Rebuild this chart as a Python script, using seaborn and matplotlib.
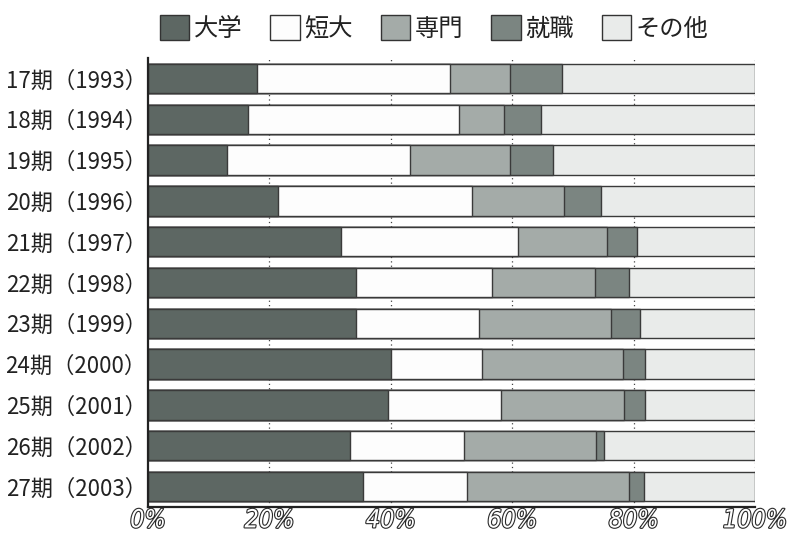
import numpy as np
import pandas as pd
import seaborn as sns
import matplotlib
matplotlib.use("Agg")
import matplotlib.pyplot as plt
from matplotlib.patches import Patch
import matplotlib.patheffects as pe

sns.set_theme(style="white")
plt.rcParams["font.family"] = ["Noto Sans CJK JP", "DejaVu Sans"]

# 進路別の割合（%）
periods = ["17期（1993）", "18期（1994）", "19期（1995）", "20期（1996）",
           "21期（1997）", "22期（1998）", "23期（1999）", "24期（2000）",
           "25期（2001）", "26期（2002）", "27期（2003）"]
univ    = [18.0, 16.5, 13.0, 21.4, 31.8, 34.2, 34.2, 40.1, 39.6, 33.2, 35.5]
junior  = [31.8, 34.7, 30.1, 31.9, 29.1, 22.4, 20.4, 15.0, 18.5, 18.8, 17.1]
voc     = [9.9, 7.5, 16.6, 15.2, 14.7, 17.0, 21.6, 23.1, 20.3, 21.8, 26.6]
job     = [8.5, 6.0, 7.0, 6.1, 4.9, 5.6, 4.8, 3.6, 3.4, 1.4, 2.5]
other   = [31.8, 35.3, 33.3, 25.4, 19.5, 20.8, 19.0, 18.2, 18.2, 24.8, 18.3]

series = ["大学", "短大", "専門", "就職", "その他"]
colors = ["#5d6763", "#fdfdfd", "#a4aba8", "#7b8581", "#e9ebea"]
xticks = [0, 20, 40, 60, 80, 100]
xticklabels = ["0%", "20%", "40%", "60%", "80%", "100%"]

df = pd.DataFrame({"period": periods, "大学": univ, "短大": junior,
                   "専門": voc, "就職": job, "その他": other})
cum = df[series].cumsum(axis=1)

fig = plt.figure(figsize=(7.94, 5.38), dpi=100)
ax = fig.add_axes([0.1864, 0.0576, 0.7645, 0.8346])

# dotted guides between the bars
for x in xticks[1:]:
    ax.axvline(x, color="#444444", lw=0.9, ls=(0, (1, 2.5)), zorder=0)

# stacked bars: draw the cumulative totals from the outermost segment inward
for name, col in reversed(list(zip(series, colors))):
    sns.barplot(x=cum[name], y=df["period"], orient="h", color=col,
                width=0.72, edgecolor="#3a3a3a", linewidth=1.0,
                saturation=1, ax=ax, zorder=2)

ax.set_xlim(0, 100)
ax.set_ylim(len(periods) - 0.5, -0.5)
ax.set_xlabel("")
ax.set_ylabel("")
ax.set_xticks(xticks)
ax.set_xticklabels(xticklabels)
for t in ax.get_xticklabels():
    t.set_fontfamily("DejaVu Sans")
    t.set_fontstretch("condensed")
    t.set_fontstyle("italic")
    t.set_fontsize(18)
    t.set_color("white")
    t.set_path_effects([pe.withStroke(linewidth=1.6, foreground="#2a2a2a")])
ax.tick_params(axis="x", length=0, pad=1)
ax.tick_params(axis="y", length=0, pad=1, labelsize=16, labelcolor="#222222")

for s in ["top", "right"]:
    ax.spines[s].set_visible(False)
for s in ["left", "bottom"]:
    ax.spines[s].set_color("#222222")
    ax.spines[s].set_linewidth(1.6)

handles = [Patch(facecolor=c, edgecolor="#333333", linewidth=1.0) for c in colors]
fig.legend(handles, series, loc="upper center", bbox_to_anchor=(0.547, 1.012),
           ncol=5, frameon=False, fontsize=17.5, handlelength=1.2,
           handleheight=1.2, handletextpad=0.2, columnspacing=1.15,
           labelcolor="#222222")

fig.savefig("out.png", dpi=100)
